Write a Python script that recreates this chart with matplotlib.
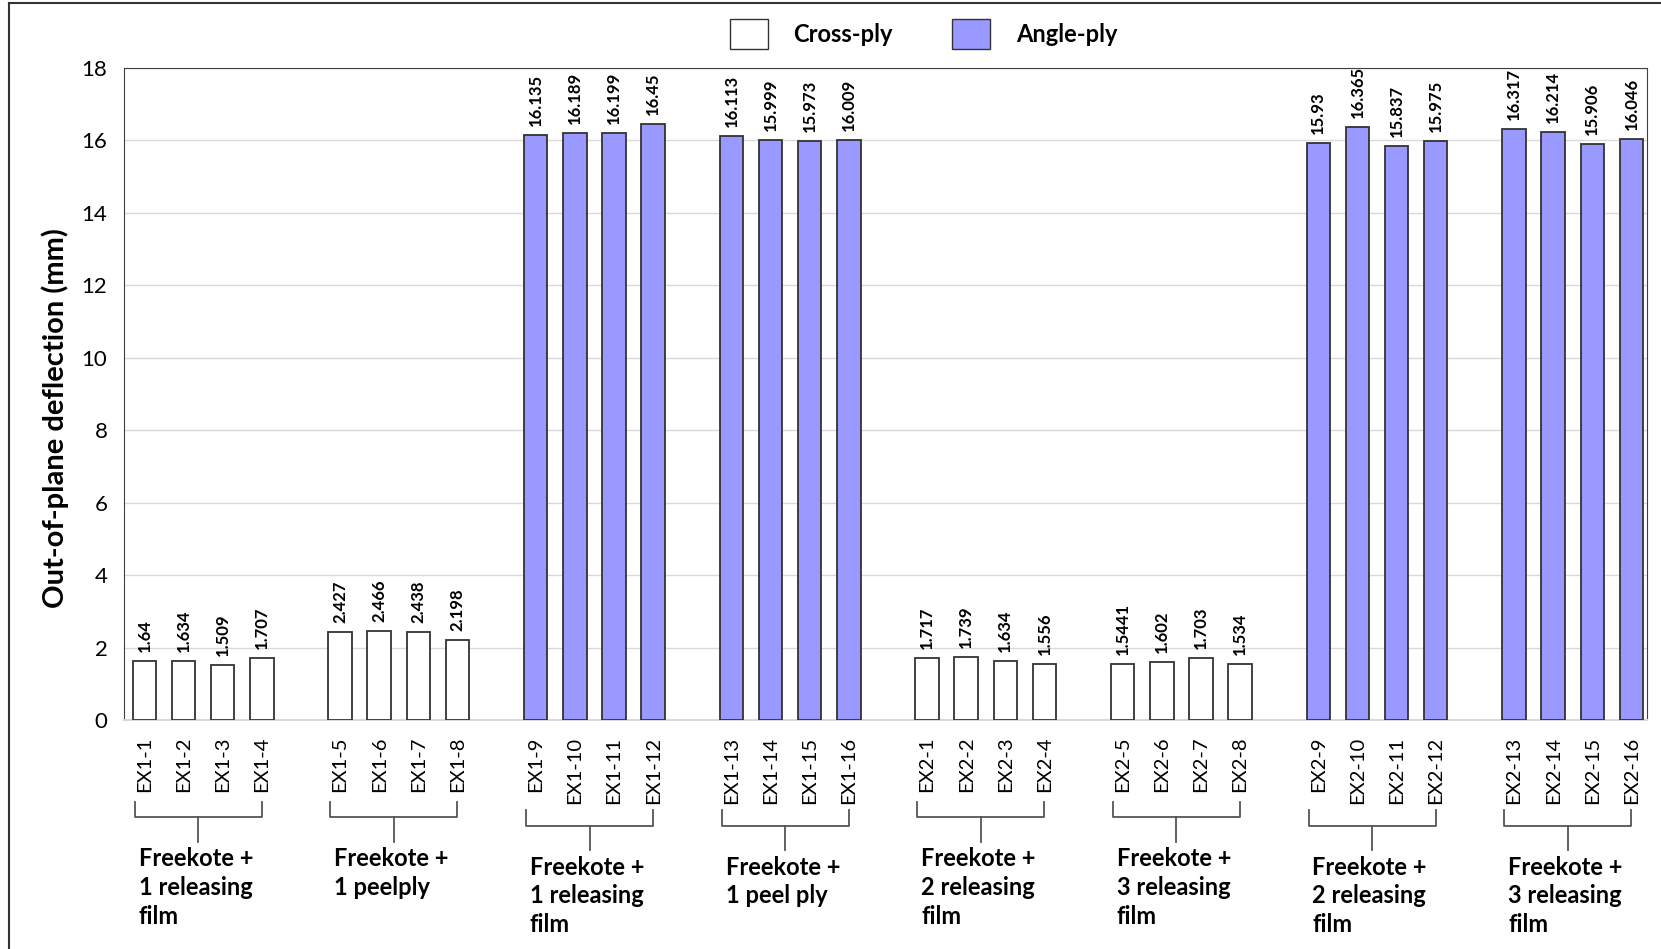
import matplotlib.pyplot as plt
from matplotlib.patches import Patch
from matplotlib.lines import Line2D
import matplotlib.transforms as mtransforms

plt.rcParams['font.family'] = ['Lato', 'DejaVu Sans']

# Data
samples = ['EX1-1', 'EX1-2', 'EX1-3', 'EX1-4',
           'EX1-5', 'EX1-6', 'EX1-7', 'EX1-8',
           'EX1-9', 'EX1-10', 'EX1-11', 'EX1-12',
           'EX1-13', 'EX1-14', 'EX1-15', 'EX1-16',
           'EX2-1', 'EX2-2', 'EX2-3', 'EX2-4',
           'EX2-5', 'EX2-6', 'EX2-7', 'EX2-8',
           'EX2-9', 'EX2-10', 'EX2-11', 'EX2-12',
           'EX2-13', 'EX2-14', 'EX2-15', 'EX2-16']
values = [1.64, 1.634, 1.509, 1.707,
          2.427, 2.466, 2.438, 2.198,
          16.135, 16.189, 16.199, 16.45,
          16.113, 15.999, 15.973, 16.009,
          1.717, 1.739, 1.634, 1.556,
          1.5441, 1.602, 1.703, 1.534,
          15.93, 16.365, 15.837, 15.975,
          16.317, 16.214, 15.906, 16.046]
valueLabels = ['1.64', '1.634', '1.509', '1.707',
               '2.427', '2.466', '2.438', '2.198',
               '16.135', '16.189', '16.199', '16.45',
               '16.113', '15.999', '15.973', '16.009',
               '1.717', '1.739', '1.634', '1.556',
               '1.5441', '1.602', '1.703', '1.534',
               '15.93', '16.365', '15.837', '15.975',
               '16.317', '16.214', '15.906', '16.046']
groupNames = ['Freekote +\n1 releasing\nfilm', 'Freekote +\n1 peelply',
              'Freekote +\n1 releasing\nfilm', 'Freekote +\n1 peel ply',
              'Freekote +\n2 releasing\nfilm', 'Freekote +\n3 releasing\nfilm',
              'Freekote +\n2 releasing\nfilm', 'Freekote +\n3 releasing\nfilm']
groupPly = ['Cross-ply', 'Cross-ply', 'Angle-ply', 'Angle-ply',
            'Cross-ply', 'Cross-ply', 'Angle-ply', 'Angle-ply']

# Style
plyColor = {'Cross-ply': 'white', 'Angle-ply': '#9999ff'}
edgeColor = '#333333'
barWidth = 0.6
barsPerGroup = 4

fig = plt.figure(figsize=(16.61, 9.49), dpi=100)
ax = fig.add_axes([0.0747, 0.2413, 0.9169, 0.6873])

xPos = []
colors = []
for idxGroup in range(len(groupNames)):
    for idxBar in range(barsPerGroup):
        xPos.append(idxGroup * (barsPerGroup + 1) + idxBar)
        colors.append(plyColor[groupPly[idxGroup]])

ax.bar(xPos, values, width=barWidth, color=colors, edgecolor=edgeColor,
       linewidth=1.3, zorder=3)

for x, v, lab in zip(xPos, values, valueLabels):
    ax.text(x, v + 0.25, lab, rotation=90, ha='center', va='bottom',
            fontsize=12, fontweight='bold')

ax.set_xlim(-0.52, 38.4)
ax.set_ylim(0, 18)
ax.set_yticks(range(0, 19, 2))
ax.tick_params(axis='y', labelsize=16, length=0, pad=12)
ax.set_xticks(xPos)
ax.set_xticklabels(samples, rotation=90, fontsize=14.5)
ax.tick_params(axis='x', length=0, pad=12)
ax.grid(axis='y', color='#d9d9d9', linewidth=1, zorder=0)
for side in ['top', 'right', 'left']:
    ax.spines[side].set_color('#404040')
ax.spines['bottom'].set_color('#d9d9d9')
ax.spines['bottom'].set_linewidth(1.5)
ax.set_ylabel('Out-of-plane deflection (mm)', fontsize=21, fontweight='bold')
ax.yaxis.set_label_coords(-0.036, 0.463)

# Group braces and names below tick labels
trans = mtransforms.blended_transform_factory(ax.transData, ax.transAxes)
longLabels = [False, False, True, True, False, False, True, True]
for idxGroup, name in enumerate(groupNames):
    x0 = idxGroup * (barsPerGroup + 1)
    x3 = x0 + barsPerGroup - 1
    xm = (x0 - 0.25 + x3) / 2
    off = -0.013 if longLabels[idxGroup] else 0.0
    yTop, yMid, yBot = -0.125 + off, -0.149 + off, -0.187 + off
    ax.add_line(Line2D([x0 - 0.25, x0 - 0.25, x3, x3],
                       [yTop, yMid, yMid, yTop], transform=trans,
                       color='#555555', lw=1.3, clip_on=False))
    ax.add_line(Line2D([xm, xm], [yMid, yBot], transform=trans,
                       color='#555555', lw=1.3, clip_on=False))
    ax.text(x0 - 0.15, yBot - 0.008, name, transform=trans, ha='left',
            va='top', fontsize=17, fontweight='bold', linespacing=1.3)

# Legend
handles = [Patch(facecolor=plyColor['Cross-ply'], edgecolor=edgeColor,
                 label='Cross-ply'),
           Patch(facecolor=plyColor['Angle-ply'], edgecolor=edgeColor,
                 label='Angle-ply')]
leg = fig.legend(handles=handles, loc='center', bbox_to_anchor=(0.556, 0.964),
                 ncol=2, frameon=False, handlelength=1.6, handleheight=1.6,
                 columnspacing=2.5, handletextpad=1.1,
                 prop={'size': 17, 'weight': 'bold'})

# Outer border (top and left)
fig.add_artist(Line2D([0.0055, 1.0], [0.9965, 0.9965], color='#333333',
                      lw=1.5, transform=fig.transFigure))
fig.add_artist(Line2D([0.0055, 0.0055], [0.0, 0.9965], color='#333333',
                      lw=1.5, transform=fig.transFigure))

fig.savefig('out.png', dpi=100)
